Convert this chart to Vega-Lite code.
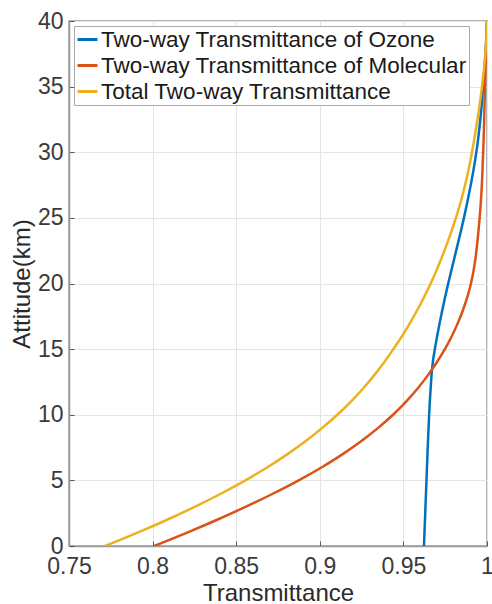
{
  "$schema": "https://vega.github.io/schema/vega-lite/v6.json",
  "autosize": {"type": "none"},
  "padding": {"left": 69, "top": 21, "right": 5, "bottom": 58},
  "width": 418,
  "height": 525,
  "background": "white",
  "config": {
    "font": "Liberation Sans",
    "view": {"stroke": "#9a9a9a", "strokeWidth": 1.5},
    "axis": {
      "gridColor": "#e4e4e4",
      "gridWidth": 1,
      "domainColor": "#9a9a9a",
      "domainWidth": 1.5,
      "tickColor": "#555555",
      "tickSize": -5,
      "labelColor": "#3a3a3a",
      "labelFontSize": 23,
      "labelFlush": false,
      "titleColor": "#2a2a2a",
      "titleFontSize": 24,
      "titleFontWeight": "normal"
    }
  },
  "data": {
    "values": [
      {"s": "Two-way Transmittance of Ozone", "h": 0, "t": 0.9623},
      {"s": "Two-way Transmittance of Ozone", "h": 2, "t": 0.9629},
      {"s": "Two-way Transmittance of Ozone", "h": 4, "t": 0.9635},
      {"s": "Two-way Transmittance of Ozone", "h": 6, "t": 0.9641},
      {"s": "Two-way Transmittance of Ozone", "h": 8, "t": 0.9647},
      {"s": "Two-way Transmittance of Ozone", "h": 10, "t": 0.9654},
      {"s": "Two-way Transmittance of Ozone", "h": 11, "t": 0.9658},
      {"s": "Two-way Transmittance of Ozone", "h": 12, "t": 0.9663},
      {"s": "Two-way Transmittance of Ozone", "h": 13, "t": 0.9668},
      {"s": "Two-way Transmittance of Ozone", "h": 14, "t": 0.9676},
      {"s": "Two-way Transmittance of Ozone", "h": 15, "t": 0.9688},
      {"s": "Two-way Transmittance of Ozone", "h": 16, "t": 0.9702},
      {"s": "Two-way Transmittance of Ozone", "h": 17, "t": 0.9717},
      {"s": "Two-way Transmittance of Ozone", "h": 18, "t": 0.9733},
      {"s": "Two-way Transmittance of Ozone", "h": 19, "t": 0.975},
      {"s": "Two-way Transmittance of Ozone", "h": 20, "t": 0.9768},
      {"s": "Two-way Transmittance of Ozone", "h": 21, "t": 0.9787},
      {"s": "Two-way Transmittance of Ozone", "h": 22, "t": 0.9806},
      {"s": "Two-way Transmittance of Ozone", "h": 23, "t": 0.9825},
      {"s": "Two-way Transmittance of Ozone", "h": 24, "t": 0.9844},
      {"s": "Two-way Transmittance of Ozone", "h": 25, "t": 0.9862},
      {"s": "Two-way Transmittance of Ozone", "h": 26, "t": 0.9879},
      {"s": "Two-way Transmittance of Ozone", "h": 27, "t": 0.9895},
      {"s": "Two-way Transmittance of Ozone", "h": 28, "t": 0.991},
      {"s": "Two-way Transmittance of Ozone", "h": 29, "t": 0.9924},
      {"s": "Two-way Transmittance of Ozone", "h": 30, "t": 0.9936},
      {"s": "Two-way Transmittance of Ozone", "h": 31, "t": 0.9947},
      {"s": "Two-way Transmittance of Ozone", "h": 32, "t": 0.9956},
      {"s": "Two-way Transmittance of Ozone", "h": 33, "t": 0.9964},
      {"s": "Two-way Transmittance of Ozone", "h": 34, "t": 0.9971},
      {"s": "Two-way Transmittance of Ozone", "h": 35, "t": 0.9977},
      {"s": "Two-way Transmittance of Ozone", "h": 36, "t": 0.9983},
      {"s": "Two-way Transmittance of Ozone", "h": 37, "t": 0.9988},
      {"s": "Two-way Transmittance of Ozone", "h": 38, "t": 0.9993},
      {"s": "Two-way Transmittance of Ozone", "h": 39, "t": 0.9997},
      {"s": "Two-way Transmittance of Ozone", "h": 40, "t": 1.0},
      {"s": "Two-way Transmittance of Molecular", "h": 0, "t": 0.801},
      {"s": "Two-way Transmittance of Molecular", "h": 1, "t": 0.8203},
      {"s": "Two-way Transmittance of Molecular", "h": 2, "t": 0.8386},
      {"s": "Two-way Transmittance of Molecular", "h": 3, "t": 0.8559},
      {"s": "Two-way Transmittance of Molecular", "h": 4, "t": 0.8722},
      {"s": "Two-way Transmittance of Molecular", "h": 5, "t": 0.8874},
      {"s": "Two-way Transmittance of Molecular", "h": 6, "t": 0.9012},
      {"s": "Two-way Transmittance of Molecular", "h": 7, "t": 0.9137},
      {"s": "Two-way Transmittance of Molecular", "h": 8, "t": 0.9249},
      {"s": "Two-way Transmittance of Molecular", "h": 9, "t": 0.9349},
      {"s": "Two-way Transmittance of Molecular", "h": 10, "t": 0.9438},
      {"s": "Two-way Transmittance of Molecular", "h": 11, "t": 0.9516},
      {"s": "Two-way Transmittance of Molecular", "h": 12, "t": 0.9585},
      {"s": "Two-way Transmittance of Molecular", "h": 13, "t": 0.9646},
      {"s": "Two-way Transmittance of Molecular", "h": 14, "t": 0.97},
      {"s": "Two-way Transmittance of Molecular", "h": 15, "t": 0.9748},
      {"s": "Two-way Transmittance of Molecular", "h": 16, "t": 0.979},
      {"s": "Two-way Transmittance of Molecular", "h": 17, "t": 0.9826},
      {"s": "Two-way Transmittance of Molecular", "h": 18, "t": 0.9857},
      {"s": "Two-way Transmittance of Molecular", "h": 19, "t": 0.9883},
      {"s": "Two-way Transmittance of Molecular", "h": 20, "t": 0.9904},
      {"s": "Two-way Transmittance of Molecular", "h": 21, "t": 0.992},
      {"s": "Two-way Transmittance of Molecular", "h": 22, "t": 0.9932},
      {"s": "Two-way Transmittance of Molecular", "h": 23, "t": 0.9941},
      {"s": "Two-way Transmittance of Molecular", "h": 24, "t": 0.9949},
      {"s": "Two-way Transmittance of Molecular", "h": 25, "t": 0.9956},
      {"s": "Two-way Transmittance of Molecular", "h": 26, "t": 0.9962},
      {"s": "Two-way Transmittance of Molecular", "h": 27, "t": 0.9967},
      {"s": "Two-way Transmittance of Molecular", "h": 28, "t": 0.9971},
      {"s": "Two-way Transmittance of Molecular", "h": 29, "t": 0.9974},
      {"s": "Two-way Transmittance of Molecular", "h": 30, "t": 0.9977},
      {"s": "Two-way Transmittance of Molecular", "h": 31, "t": 0.998},
      {"s": "Two-way Transmittance of Molecular", "h": 32, "t": 0.9982},
      {"s": "Two-way Transmittance of Molecular", "h": 33, "t": 0.9984},
      {"s": "Two-way Transmittance of Molecular", "h": 34, "t": 0.9986},
      {"s": "Two-way Transmittance of Molecular", "h": 35, "t": 0.9988},
      {"s": "Two-way Transmittance of Molecular", "h": 36, "t": 0.999},
      {"s": "Two-way Transmittance of Molecular", "h": 37, "t": 0.9993},
      {"s": "Two-way Transmittance of Molecular", "h": 38, "t": 0.9995},
      {"s": "Two-way Transmittance of Molecular", "h": 39, "t": 0.9998},
      {"s": "Two-way Transmittance of Molecular", "h": 40, "t": 1.0},
      {"s": "Total Two-way Transmittance", "h": 0, "t": 0.7715},
      {"s": "Total Two-way Transmittance", "h": 1, "t": 0.7907},
      {"s": "Total Two-way Transmittance", "h": 2, "t": 0.8087},
      {"s": "Total Two-way Transmittance", "h": 3, "t": 0.8255},
      {"s": "Total Two-way Transmittance", "h": 4, "t": 0.8411},
      {"s": "Total Two-way Transmittance", "h": 5, "t": 0.8555},
      {"s": "Total Two-way Transmittance", "h": 6, "t": 0.8687},
      {"s": "Total Two-way Transmittance", "h": 7, "t": 0.8807},
      {"s": "Total Two-way Transmittance", "h": 8, "t": 0.8916},
      {"s": "Total Two-way Transmittance", "h": 9, "t": 0.9015},
      {"s": "Total Two-way Transmittance", "h": 10, "t": 0.9105},
      {"s": "Total Two-way Transmittance", "h": 11, "t": 0.9186},
      {"s": "Total Two-way Transmittance", "h": 12, "t": 0.9259},
      {"s": "Total Two-way Transmittance", "h": 13, "t": 0.9325},
      {"s": "Total Two-way Transmittance", "h": 14, "t": 0.9385},
      {"s": "Total Two-way Transmittance", "h": 15, "t": 0.944},
      {"s": "Total Two-way Transmittance", "h": 16, "t": 0.9492},
      {"s": "Total Two-way Transmittance", "h": 17, "t": 0.954},
      {"s": "Total Two-way Transmittance", "h": 18, "t": 0.9584},
      {"s": "Total Two-way Transmittance", "h": 19, "t": 0.9625},
      {"s": "Total Two-way Transmittance", "h": 20, "t": 0.9663},
      {"s": "Total Two-way Transmittance", "h": 21, "t": 0.9698},
      {"s": "Total Two-way Transmittance", "h": 22, "t": 0.973},
      {"s": "Total Two-way Transmittance", "h": 23, "t": 0.976},
      {"s": "Total Two-way Transmittance", "h": 24, "t": 0.9788},
      {"s": "Total Two-way Transmittance", "h": 25, "t": 0.9814},
      {"s": "Total Two-way Transmittance", "h": 26, "t": 0.9838},
      {"s": "Total Two-way Transmittance", "h": 27, "t": 0.9859},
      {"s": "Total Two-way Transmittance", "h": 28, "t": 0.9878},
      {"s": "Total Two-way Transmittance", "h": 29, "t": 0.9895},
      {"s": "Total Two-way Transmittance", "h": 30, "t": 0.991},
      {"s": "Total Two-way Transmittance", "h": 31, "t": 0.9924},
      {"s": "Total Two-way Transmittance", "h": 32, "t": 0.9937},
      {"s": "Total Two-way Transmittance", "h": 33, "t": 0.9949},
      {"s": "Total Two-way Transmittance", "h": 34, "t": 0.996},
      {"s": "Total Two-way Transmittance", "h": 35, "t": 0.997},
      {"s": "Total Two-way Transmittance", "h": 36, "t": 0.9979},
      {"s": "Total Two-way Transmittance", "h": 37, "t": 0.9987},
      {"s": "Total Two-way Transmittance", "h": 38, "t": 0.9993},
      {"s": "Total Two-way Transmittance", "h": 39, "t": 0.9997},
      {"s": "Total Two-way Transmittance", "h": 40, "t": 1.0}
    ]
  },
  "mark": {"type": "line", "strokeWidth": 2.5, "clip": true, "interpolate": "monotone"},
  "encoding": {
    "x": {
      "field": "t",
      "type": "quantitative",
      "title": "Transmittance",
      "scale": {"domain": [0.75, 1], "nice": false, "zero": false},
      "axis": {"values": [0.75, 0.8, 0.85, 0.9, 0.95, 1], "labelPadding": 14, "titlePadding": 3, "labelExpr": "datum.value == 1 ? '1' : format(datum.value, '.2~f')"}
    },
    "y": {
      "field": "h",
      "type": "quantitative",
      "title": "Attitude(km)",
      "scale": {"domain": [0, 40], "nice": false},
      "axis": {"values": [0, 5, 10, 15, 20, 25, 30, 35, 40], "labelPadding": 11, "titlePadding": 3}
    },
    "order": {"field": "h", "type": "quantitative"},
    "color": {
      "field": "s",
      "type": "nominal",
      "scale": {
        "domain": ["Two-way Transmittance of Ozone", "Two-way Transmittance of Molecular", "Total Two-way Transmittance"],
        "range": ["#0072BD", "#D95319", "#EDB120"]
      },
      "legend": {
        "title": null,
        "orient": "none",
        "legendX": 5,
        "legendY": 5,
        "fillColor": "white",
        "strokeColor": "#aaaaaa",
        "padding": 2,
        "symbolType": "stroke",
        "symbolSize": 400,
        "symbolStrokeWidth": 3,
        "labelFontSize": 22.5,
        "labelColor": "#1a1a1a",
        "labelOffset": 2,
        "rowPadding": 3,
        "labelLimit": 500
      }
    }
  }
}
